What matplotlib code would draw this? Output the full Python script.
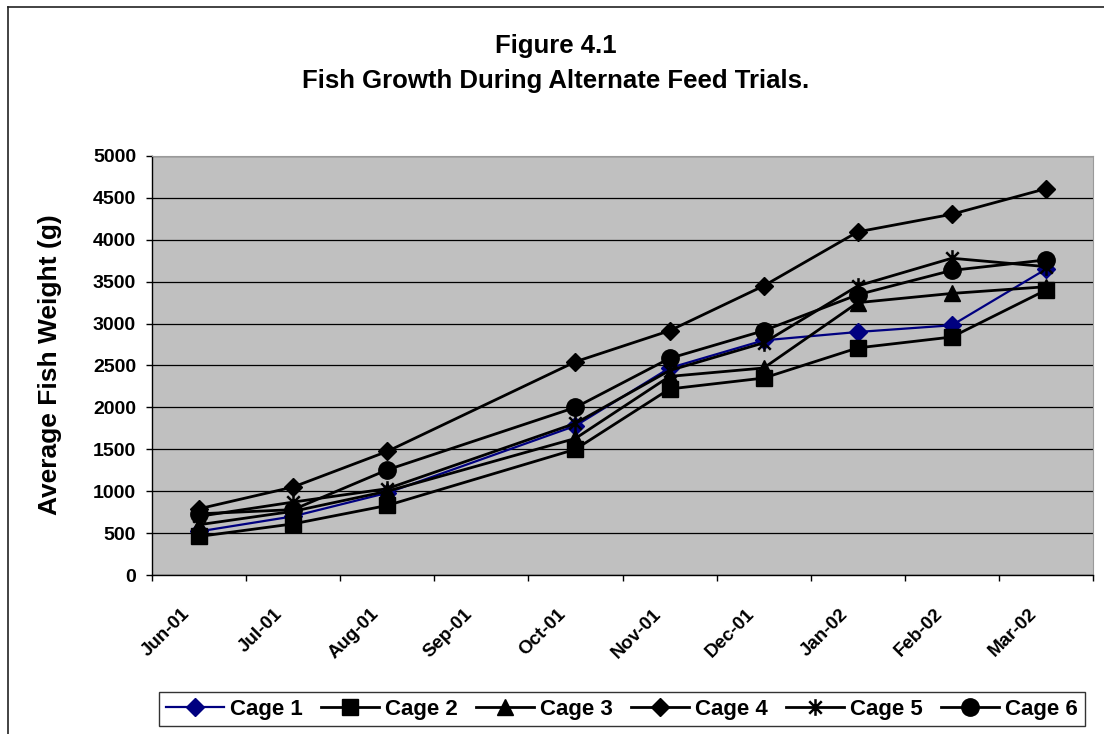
import matplotlib
matplotlib.use('Agg')
import matplotlib.pyplot as plt
from matplotlib.lines import Line2D
from matplotlib.path import Path
import numpy as np

plt.rcParams['font.family'] = ['Liberation Sans', 'DejaVu Sans']
plt.rcParams['font.weight'] = 'bold'

# month axis runs Jun-01 .. Mar-02, no sampling in Sep-01
months = ['Jun-01', 'Jul-01', 'Aug-01', 'Sep-01', 'Oct-01',
          'Nov-01', 'Dec-01', 'Jan-02', 'Feb-02', 'Mar-02']
sample_months = ['Jun-01', 'Jul-01', 'Aug-01', 'Oct-01', 'Nov-01',
                 'Dec-01', 'Jan-02', 'Feb-02', 'Mar-02']

cage1 = [520, 700, 980, 1780, 2470, 2800, 2900, 2980, 3650]
cage2 = [460, 610, 830, 1500, 2220, 2350, 2710, 2840, 3400]
cage3 = [600, 760, 1000, 1630, 2370, 2470, 3250, 3360, 3440]
cage4 = [790, 1050, 1475, 2545, 2915, 3450, 4095, 4305, 4610]
cage5 = [700, 870, 1030, 1810, 2440, 2770, 3450, 3780, 3680]
cage6 = [730, 780, 1255, 2000, 2585, 2915, 3345, 3635, 3760]

series_names = ['Cage 1', 'Cage 2', 'Cage 3', 'Cage 4', 'Cage 5', 'Cage 6']

# asterisk made of a vertical bar and an X
star = Path([(0, -1), (0, 1), (-0.75, -0.75), (0.75, 0.75), (-0.75, 0.75), (0.75, -0.75)],
            [Path.MOVETO, Path.LINETO, Path.MOVETO, Path.LINETO, Path.MOVETO, Path.LINETO])

styles = [
    dict(color='#000080', marker='D', ms=9, lw=1.6),
    dict(color='black', marker='s', ms=12, lw=2),
    dict(color='black', marker='^', ms=12, lw=2),
    dict(color='black', marker='D', ms=9.5, lw=2),
    dict(color='black', marker=star, ms=12, lw=2, mew=1.8),
    dict(color='black', marker='o', ms=12.5, lw=2),
]

fig = plt.figure(figsize=(11.04, 7.34), dpi=100)
ax = fig.add_axes([152 / 1104, 1 - 575 / 734, 941 / 1104, 419 / 734])
ax.set_facecolor('#C0C0C0')

x = np.array([months.index(m) for m in sample_months]) + 0.5
for name, vals, st in zip(series_names, [cage1, cage2, cage3, cage4, cage5, cage6], styles):
    ax.plot(x, vals, label=name, color=st['color'], lw=st['lw'], marker=st['marker'],
            ms=st['ms'], mfc=st['color'], mec=st['color'], mew=st.get('mew', 1),
            solid_joinstyle='miter', zorder=3)

ax.set_xlim(0, len(months))
ax.set_ylim(0, 5000)
ax.set_yticks(np.arange(0, 5001, 500))
ax.yaxis.grid(True, color='black', lw=0.9)
ax.set_axisbelow(True)

# tick marks at month boundaries, labels sit a little right of each mark
ax.set_xticks(np.arange(len(months) + 1), minor=True)
ax.set_xticks(np.arange(len(months)) + 0.15)
ax.set_xticklabels(months, rotation=45, ha='center', fontsize=13.5)
ax.tick_params(axis='x', which='major', length=0, pad=22)
ax.tick_params(axis='x', which='minor', direction='out', length=4.5, width=1)
ax.tick_params(axis='y', direction='out', length=4.5, width=1, pad=7, labelsize=14)

for side in ['top', 'right']:
    ax.spines[side].set_color('#9a9a9a')
    ax.spines[side].set_linewidth(0.8)
for side in ['left', 'bottom']:
    ax.spines[side].set_color('black')
    ax.spines[side].set_linewidth(1)

fig.text(50 / 1104, 1 - 365 / 734, 'Average Fish Weight (g)', rotation=90,
         ha='center', va='center', fontsize=19, fontweight='bold')

# title is centred on the whole chart area
fig.text(556 / 1104, 1 - 46 / 734, 'Figure 4.1', ha='center', va='center',
         fontsize=18.5, fontweight='bold')
fig.text(556 / 1104, 1 - 81 / 734, 'Fish Growth During Alternate Feed Trials.',
         ha='center', va='center', fontsize=18.5, fontweight='bold')

leg = fig.legend(loc='center', bbox_to_anchor=(622 / 1104, 1 - 709 / 734), ncol=6,
                 fontsize=16, frameon=True, fancybox=False, edgecolor='black',
                 handlelength=2.6, handletextpad=0.3, columnspacing=0.8,
                 borderpad=0.3, borderaxespad=0)
leg.get_frame().set_linewidth(1)

# chart frame (only left and top edges fall inside the image)
fig.add_artist(Line2D([8 / 1104, 8 / 1104], [0, 1 - 7 / 734], color='#222222', lw=1.2))
fig.add_artist(Line2D([8 / 1104, 1], [1 - 7 / 734, 1 - 7 / 734], color='#222222', lw=1.2))

fig.savefig('out.png', dpi=100)
